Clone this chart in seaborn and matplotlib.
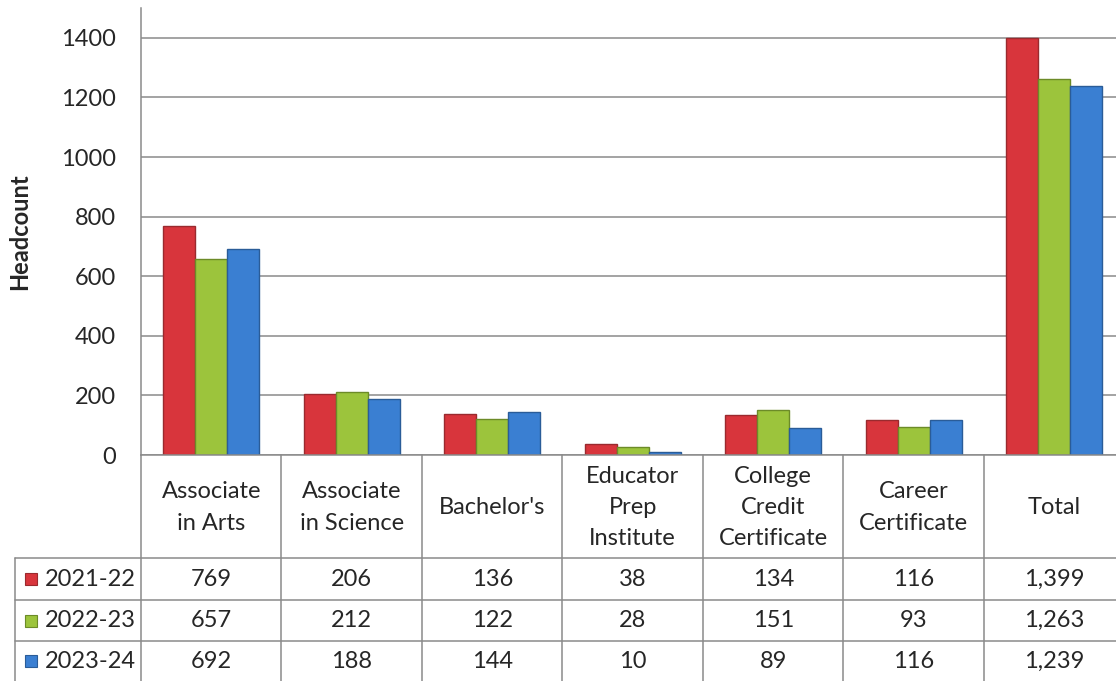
import matplotlib
matplotlib.use("Agg")
import matplotlib.pyplot as plt
import seaborn as sns
import pandas as pd

categories = ["Associate\nin Arts", "Associate\nin Science", "Bachelor's",
              "Educator\nPrep\nInstitute", "College\nCredit\nCertificate",
              "Career\nCertificate", "Total"]
years = ["2021-22", "2022-23", "2023-24"]
v2021 = [769, 206, 136, 38, 134, 116, 1399]
v2022 = [657, 212, 122, 28, 151, 93, 1263]
v2023 = [692, 188, 144, 10, 89, 116, 1239]
yticks = [0, 200, 400, 600, 800, 1000, 1200, 1400]

colors = ["#d8353c", "#9cc43c", "#3a7fd2"]
edges = ["#9a2a2e", "#6c8b28", "#2a5c98"]
grid_c = "#8a8a8a"

sns.set_theme(style="white")
plt.rcParams["font.family"] = ["Lato", "DejaVu Sans"]
FS = 17

rows = []
for y, vals in zip(years, [v2021, v2022, v2023]):
    for c, v in zip(categories, vals):
        rows.append({"category": c, "year": y, "value": v})
df = pd.DataFrame(rows)

W, H = 1116, 681
fig = plt.figure(figsize=(W / 100, H / 100), dpi=100)
ax = fig.add_axes([141 / W, 226 / H, 983.5 / W, 447 / H])

sns.barplot(data=df, x="category", y="value", hue="year", order=categories,
            hue_order=years, palette=colors, width=0.68, gap=0,
            ax=ax, legend=False, saturation=1)
for cont, ec in zip(ax.containers, edges):
    for p in cont:
        p.set_edgecolor(ec)
        p.set_linewidth(1.0)

ax.set_xlim(-0.5, 6.5)
ax.set_ylim(0, 1500)
ax.set_yticks(yticks)
ax.set_yticklabels([str(t) for t in yticks], fontsize=FS)
ax.set_xticks([])
ax.set_xlabel("")
ax.set_ylabel("")
ax.grid(axis="y", color=grid_c, linewidth=1.1)
ax.set_axisbelow(True)
ax.tick_params(axis="y", length=0, pad=18)
for s in ["top", "right"]:
    ax.spines[s].set_visible(False)
for s in ["left", "bottom"]:
    ax.spines[s].set_color(grid_c)
    ax.spines[s].set_linewidth(1.1)

fig.text(20 / W, 1 - 232 / H, "Headcount", rotation=90, fontsize=FS,
         fontweight="bold", ha="center", va="center")

# data table below the plot
leg_w = 126 / 140.5
tax = fig.add_axes([15 / W, 0, (1124.5 - 15) / W, 226 / H])
tax.set_xlim(-0.5 - leg_w, 6.5)
tax.set_ylim(226, 0)
tax.axis("off")
row_edges = [0, 103, 145, 186, 226]
n = len(categories)
for k in range(n + 1):
    tax.plot([k - 0.5, k - 0.5], [0, 226], color=grid_c, lw=1.1, clip_on=False)
tax.plot([-0.5 - leg_w] * 2, [row_edges[1], 226], color=grid_c, lw=1.1, clip_on=False)
for r in row_edges[1:4]:
    tax.plot([-0.5 - leg_w, 6.5], [r, r], color=grid_c, lw=1.1, clip_on=False)

for i, c in enumerate(categories):
    tax.text(i, (row_edges[0] + row_edges[1]) / 2 + 1, c, ha="center", va="center",
             fontsize=FS, linespacing=1.6)

for j, (y, vals) in enumerate(zip(years, [v2021, v2022, v2023])):
    yc = (row_edges[j + 1] + row_edges[j + 2]) / 2
    tax.plot([-0.5 - leg_w + 16 / 140.5], [yc], marker="s", ms=9,
             color=colors[j], mec=edges[j], mew=0.8, clip_on=False)
    tax.text(-0.5 - leg_w + 30 / 140.5, yc, y, ha="left", va="center", fontsize=FS)
    for i, v in enumerate(vals):
        tax.text(i, yc, f"{v:,}", ha="center", va="center", fontsize=FS)

fig.savefig("out.png", dpi=100)
